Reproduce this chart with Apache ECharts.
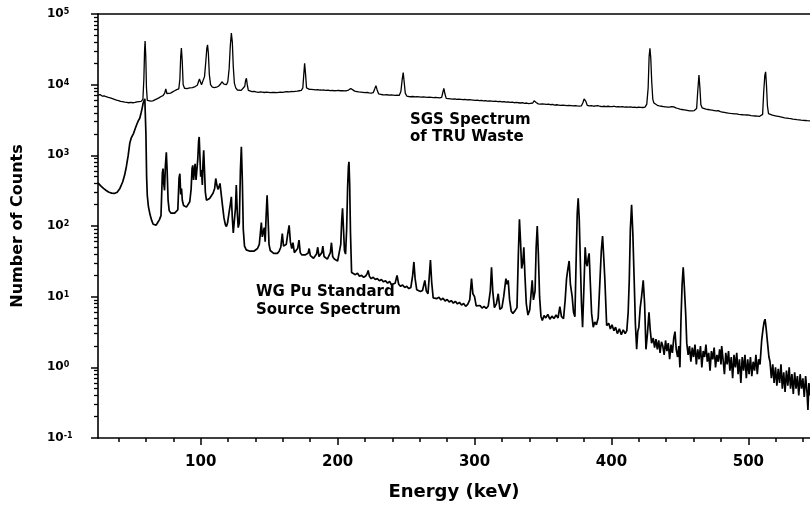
<!DOCTYPE html>
<html><head><meta charset="utf-8">
<script src="https://cdn.jsdelivr.net/npm/echarts@6/dist/echarts.min.js"></script>
<style>html,body{margin:0;padding:0;background:#fff}#c{width:810px;height:510px}</style>
</head><body><div id="c"></div>
<script>
// ---- tick labels ----
const xMajorTicks = [100, 200, 300, 400, 500];
const xMinorTicks = [40, 60, 80, 120, 140, 160, 180, 220, 240, 260, 280, 320, 340, 360, 380, 420, 440, 460, 480, 520, 540];
const yDecadeExponents = [-1, 0, 1, 2, 3, 4, 5];
const yMinorMantissas = [2, 3, 4, 5, 6, 7, 8, 9];

// ---- SGS spectrum of TRU waste [keV, counts] ----
const sgsSpectrum = [
[25,7100],[26.5,7250],[28,6900],[29.5,6950],[31,6750],[32.5,6600],[34,6500],[35.5,6350],[37,6200],[38.5,6050],
[40,5950],[41.5,5800],[43,5750],[44.5,5650],[46,5600],[47.5,5550],[49,5600],[50.5,5550],[52,5600],[53.5,5700],
[55,5750],[56.5,5800],[57.8,6200],[58.5,12000],[59.0,30000],[59.4,41400],[59.9,25000],[60.4,9000],[61,6000],[62,5750],
[63.5,5850],[65,5900],[66.5,6100],[68,6300],[69.5,6500],[71,6800],[72.5,7000],[73.7,7600],[74.5,8700],[75.3,7500],
[76.5,7400],[78,7600],[79.5,7900],[81,8200],[82.5,8500],[84,8700],[84.8,12000],[85.4,25000],[85.9,33000],[86.5,22000],
[87.2,10000],[88.2,8900],[90,8800],[92,9000],[94,9100],[96,9400],[97.5,9800],[98.4,11000],[99.1,12000],[99.8,11000],
[100.6,10000],[101.6,10500],[102.8,13000],[103.8,22000],[104.5,33000],[105.0,36600],[105.6,28000],[106.3,14000],[107.2,10000],[108.5,9200],
[110,9100],[111.5,9200],[113,9500],[114.5,10200],[115.5,11000],[116.2,11300],[117,10200],[117.8,9900],[118.8,10000],[119.8,11000],
[120.8,17000],[121.6,35000],[122.4,53700],[123.1,40000],[123.8,18000],[124.6,10500],[125.6,9000],[126.8,8400],[128.2,8200],[129.6,8300],
[131,8500],[132.2,9500],[132.8,11500],[133.4,12300],[134,10000],[134.8,8300],[136,8000],[137.5,7950],[139,8050],[140.5,7900],
[142,7800],[143.5,7900],[145,7850],[146.5,7750],[148,7850],[149.5,7800],[151,7700],[152.5,7800],[154,7750],[155.5,7700],
[157,7800],[158.5,7850],[160,7800],[161.5,7900],[163,7950],[164.5,7900],[166,8000],[167.5,7950],[169,8050],[170.5,8100],
[172,8200],[173.5,8300],[174.6,9000],[175.3,14000],[175.9,20000],[176.6,14000],[177.3,9000],[178.2,8500],[179.5,8600],[181,8550],
[182.5,8500],[184,8450],[185.5,8500],[187,8400],[188.5,8350],[190,8400],[191.5,8300],[193,8350],[194.5,8250],[196,8300],
[197.5,8200],[199,8250],[200.5,8300],[202,8200],[203.5,8250],[205,8150],[206.5,8200],[208,8400],[209.6,8850],[211,8300],
[212.5,8100],[214,8000],[215.5,7900],[217,7850],[218.5,7800],[220,7700],[221.5,7750],[223,7650],[224.5,7600],[226,7700],
[227.2,8800],[228,9700],[228.8,8500],[230,7400],[231.5,7300],[233,7200],[234.5,7150],[236,7200],[237.5,7100],[239,7150],
[240.5,7100],[242,7050],[243.5,7100],[245,7050],[246.2,8000],[247.2,12000],[247.9,14800],[248.6,11000],[249.4,7600],[250.5,6900],
[252,6800],[253.5,6750],[255,6800],[256.5,6700],[258,6750],[259.5,6700],[261,6650],[262.5,6700],[264,6650],[265.5,6600],
[267,6650],[268.5,6600],[270,6550],[271.5,6600],[273,6550],[274.5,6500],[276,6600],[277,8000],[277.6,8850],[278.3,7500],
[279.3,6400],[281,6350],[282.5,6300],[284,6250],[285.5,6300],[287,6200],[288.5,6250],[290,6200],[291.5,6150],[293,6200],
[294.5,6100],[296,6150],[297.5,6100],[299,6050],[300.5,6000],[302,6050],[303.5,5950],[305,6000],[306.5,5900],[308,5950],
[309.5,5850],[311,5900],[312.5,5850],[314,5800],[315.5,5850],[317,5750],[318.5,5800],[320,5700],[321.5,5750],[323,5650],
[324.5,5700],[326,5600],[327.5,5650],[329,5550],[330.5,5600],[332,5550],[333.5,5500],[335,5550],[336.5,5450],[338,5500],
[339.5,5400],[341,5450],[342.5,5500],[343.5,5900],[344.2,6200],[345,5600],[346.5,5350],[348,5300],[349.5,5350],[351,5300],
[352.5,5250],[354,5300],[355.5,5200],[357,5250],[358.5,5150],[360,5200],[361.5,5150],[363,5100],[364.5,5150],[366,5100],
[367.5,5050],[369,5100],[370.5,5050],[372,5000],[373.5,5050],[375,5000],[376.5,4980],[378,5000],[379.2,5600],[380,6300],
[380.6,6600],[381.3,5800],[382.3,5100],[383.8,5000],[385.5,5050],[387,4950],[388.5,5000],[390,5050],[391.5,4950],[393,4900],
[394.5,4950],[396,4900],[397.5,4950],[399,4880],[400.5,4900],[402,4950],[403.5,4850],[405,4900],[406.5,4850],[408,4900],
[409.5,4820],[411,4850],[412.5,4800],[414,4850],[415.5,4780],[417,4820],[418.5,4750],[420,4800],[421.5,4780],[423,4750],
[424.5,4800],[425.8,5300],[426.8,9000],[427.5,25000],[428.1,32700],[428.7,24000],[429.4,11000],[430.2,6200],[431,5500],[432,5300],
[433.5,5100],[435,5000],[436.5,4950],[438,4900],[439.5,4850],[441,4800],[442.5,4800],[444,4900],[444.7,5150],[445.5,4850],
[447,4700],[448.5,4600],[450,4500],[451.5,4450],[453,4400],[454.5,4350],[456,4300],[457.5,4250],[459,4250],[460.5,4300],
[462.2,4600],[463.0,8000],[463.9,13700],[464.6,9000],[465.3,5200],[466.2,4700],[467.5,4600],[469,4500],[470.5,4450],[472,4400],
[473.5,4350],[475,4300],[476.5,4250],[478,4280],[479.5,4150],[481,4100],[482.5,4050],[484,4000],[485.5,3950],[487,3920],
[488.5,3900],[490,3850],[491.5,3850],[493,3800],[494.5,3780],[496,3750],[497.5,3730],[499,3720],[500.5,3700],[502,3650],
[503.5,3620],[505,3600],[506.5,3580],[508,3550],[509.3,3520],[510.4,3800],[511.2,8000],[512.0,13500],[512.6,15200],[513.2,10000],
[513.9,5000],[514.7,3900],[516,3750],[517.5,3700],[519,3650],[520.5,3600],[522,3550],[523.5,3500],[525,3450],[526.5,3400],
[528,3370],[529.5,3330],[531,3300],[532.5,3260],[534,3230],[535.5,3200],[537,3180],[538.5,3150],[540,3130],[541.5,3110],
[543,3090],[545,3070]
];

// ---- WG Pu standard source spectrum [keV, counts] ----
const puLowSpectrum = [
[25,407],[27,370],[29,340],[31,318],[33,300],[35,292],[37,289],[39,300],[41,340],[43,420],
[44.5,530],[45.7,690],[47,980],[48.2,1480],[49.2,1750],[50.1,1850],[51,2050],[52.2,2400],[53.5,2800],[54.5,3100],
[55.5,3350],[56.5,4000],[57.3,4700],[57.9,5400],[58.6,5900],[59.2,6300],[59.6,6000],[60.0,2000],[60.5,500],[61,270],
[61.8,190],[63,145],[64.2,120],[65.3,106],[66.4,100],[67.5,103],[68.6,112],[69.8,122],[71,140],[72,560],
[72.5,650],[73,400],[73.6,320],[74.2,700],[74.9,1100],[75.5,600],[76.2,230],[77,165],[78.3,152],[79.6,150],
[81,152],[82.3,156],[83.3,170],[84.2,480],[84.8,550],[85.4,280],[86,340],[86.6,230],[87.5,195],[88.6,188],
[89.6,185],[90.8,195],[92,220],[93,330],[93.7,650],[94.2,720],[94.8,450],[95.4,600],[95.9,760],[96.6,450],
[97.3,480],[97.9,900],[98.5,1600],[98.9,1820],[99.5,900],[100,500],[100.6,620],[101.2,380],[101.7,800],[102.2,1180],
[102.8,600],[103.4,300],[104.2,232],[105.3,235],[106.5,245],[107.8,260],[109,290],[110.2,340],[111,470],[111.8,380],
[112.6,330],[113.4,360],[114.1,400],[115,280],[116,190],[117,130],[118,105],[118.8,98],[119.6,110],[120.6,150],
[121.6,200],[122.4,258],[123.1,130],[123.8,80],[124.6,82],[125.4,180],[126,380],[126.7,160],[127.4,95],[128.2,110],
[129,600],[129.7,1320],[130.4,450],[131.1,90],[132,52],[133.3,46],[134.7,45],[136,44],[137.4,45],[138.8,44],
[140.2,46],[141.5,48],[142.8,55],[143.6,80],[144.3,112],[145,70],[145.7,72],[146.4,95],[147.1,60],[147.8,140],
[148.5,272],[149.2,130],[149.9,55],[150.8,45],[152,43],[153.3,41],[154.6,42],[156,41],[157.3,44],[158.5,50],
[159.6,78],[160.5,52],[161.5,50],[162.5,55],[163.6,78],[164.6,102],[165.5,60],[166.5,48],[167.4,58],[168.4,42],
[169.6,41],[170.8,48],[171.8,63],[172.7,42],[173.8,39],[175,38],[176.2,39],[177.4,37],[178.4,41],[179.2,48],
[180.1,38],[181.2,36],[182.4,35],[183.6,36],[184.6,40],[185.5,50],[186.4,37],[187.6,36],[188.5,42],[189.2,52],
[190.1,37],[191.3,35],[192.5,34],[193.7,35],[194.7,42],[195.5,58],[196.4,37],[197.6,34],[198.8,33],[200,32],
[201.2,33],[202.3,55],[203.0,120],[203.6,178],[204.3,90],[205.0,45],[205.8,40],[206.6,90],[207.3,350],[207.9,700],
[208.3,810],[208.8,400],[209.4,80]
];
const puMidSpectrum = [
[210.2,22],[211.5,21],[213,20.5],[214.5,21.5],[216,19.5],[217.5,20],[219,18.8],[220.5,19.6],[221.5,21],[222.3,23.5],
[223.2,19.5],[224.5,18],[226,18.8],[227.5,17.5],[229,18],[230.5,16.8],[232,17.5],[233.5,16.2],[235,16.8],[236.5,15.5],
[238,16.5],[239.2,14.8],[240.5,15.2],[242,15.5],[243.4,20],[244.6,15],[246,14],[247.5,14.6],[249,13.5],[250.5,14],
[252,13],[253.5,13.5],[254.8,20],[255.7,31],[256.6,18],[257.8,12.5],[259,12],[260.5,11.8],[262,12.2],[263.7,17],
[264.8,12],[266,11],[267,20],[267.8,33],[268.7,16],[269.8,9.6],[271,10.2],[272.5,9.4],[274,9.8],[275.5,9],
[277,9.5],[278.5,8.7],[280,9.1],[281.5,8.4],[283,8.8],[284.5,8.1],[286,8.6],[287.5,7.9],[289,8.3],[290.5,7.6],
[292,8],[293.5,7.3],[295,7.8],[296.5,9],[297.8,18],[298.8,11],[300,10],[301.2,7.4],[302.5,7.0],[304,7.5],
[305.5,6.9],[307,7.3],[308.5,6.8],[310,7.4],[311.5,12],[312.4,26],[313.3,12],[314.5,7],[316,8],[317.3,11],
[318.5,6.6],[320,7],[321.3,10],[322.9,18],[323.8,15],[324.6,17],[325.6,9],[326.8,6.2],[328,5.8],[329.5,6.3],
[331,7],[332,40],[332.8,124],[333.6,60],[334.4,25],[335.2,30],[336,50],[336.8,20],[337.8,8],[339,5.5],
[340.3,6.5],[341.3,11],[342.1,17],[343,9],[344.2,12],[345,50],[345.8,100],[346.6,40],[347.5,10]
];
const puHighSpectrum = [
[348.5,5.3],[349.5,4.6],[350.8,5.4],[352,5],[353.5,5.6],[355,4.8],[356.5,5.3],[358,4.9],[359.5,5.5],[361,5.0],
[362.3,7.2],[363.5,5.2],[365,4.9],[366.2,9],[367.2,18],[368.2,25],[369.1,32],[370,15],[371.3,10],[372.3,6],
[373.3,5.2],[374.3,40],[375,150],[375.7,247],[376.5,120],[377.3,30],[378.1,8],[378.9,3.7],[379.8,12],[380.8,50],
[381.6,30],[382.3,27],[383,35],[383.7,41],[384.6,15],[385.5,5.8],[386.7,3.7],[387.8,4.4],[389,4],[390.3,5],
[391.6,17],[392.6,45],[393.5,72],[394.4,35],[395.2,17],[396.5,3.9],[398,4.2],[399.2,3.5],[400.4,4],[401.8,3.3],
[403,3.7],[404.3,3.0],[405.8,3.5],[407.2,2.9],[408.6,3.4],[410,3.0],[411.2,3.3],[412.2,6],[413,17],[413.8,90],
[414.7,200],[415.6,80],[416.6,17],[417.5,4],[418.4,1.8],[419.2,3.2],[420,3.7],[421,7],[422,10],[423.2,17],
[424.2,8],[425.2,1.8],[426.3,3],[427.4,6],[428.3,3.4],[429.3,2.2],[430.5,2.6],[431.5,1.9],[432.5,2.5],[433.5,1.8],
[434.5,2.4],[435.5,1.6],[436.5,2.3],[437.5,2.0],[438.5,1.5],[439.5,2.4],[440.5,1.7],[441.5,2.2],[442.5,1.3],[443.5,2.1],
[444.5,1.6],[445.5,2.6],[446.4,3.2],[447.3,1.8],[448.3,1.4],[449.2,2.0],[450,1.0],[450.8,5],[451.6,15],[452.4,26],
[453.2,14],[454.2,5.8],[455,2.2],[456,1.5],[457,2.0],[458,1.2],[459,1.9],[460,1.4],[461,2.1],[462,1.1],
[463,1.8],[464,1.3],[465,2.0],[466,1.0],[467,1.7],[468,1.4],[469,2.1],[470,1.2],[471,1.6],[472,0.9],
[473,1.7],[474,1.3],[475,1.9],[476,1.0],[477,1.5],[478,1.2],[479,1.8],[480,1.1],[480.5,2.0],[481.5,1.3],
[482.5,0.8],[483.5,1.6],[484.5,1.1],[485.5,1.7],[486.5,0.9],[487.5,1.4],[488.5,0.7],[489.5,1.5],[490.5,1.0],[491.5,1.6],
[492.5,0.8],[493.5,1.3],[494.5,0.6],[495.5,1.4],[496.5,0.9],[497.5,1.5],[498.5,0.7],[499.5,1.3],[500.5,0.8],[501.5,1.4],
[502.5,0.75],[503.5,1.2],[504.5,0.9],[505.5,1.5],[506.5,0.8],[507.5,1.3],[508.5,1.1],[509.7,2.4],[510.7,3.5],[511.5,4.4],
[512.2,4.8],[513,3.5],[514,2.2],[515,1.4],[515.8,1.2],[516.8,0.7],[517.8,1.1],[518.8,0.6],[519.8,1.0],[520.8,0.55],
[521.8,0.95],[522.8,0.6],[523.8,1.1],[524.8,0.5],[525.8,0.85],[526.8,0.45],[527.8,0.9],[528.8,0.55],[529.8,1.0],[530.8,0.5],
[531.8,0.8],[532.8,0.42],[533.8,0.85],[534.8,0.5],[535.8,0.75],[536.8,0.4],[537.8,0.8],[538.8,0.5],[539.8,0.7],[540.8,0.38],
[541.8,0.75],[542.8,0.45],[543.5,0.25],[544.2,0.6],[545,0.4]
];

const puSpectrum = puLowSpectrum.concat(puMidSpectrum, puHighSpectrum);
const yMinorTicks = [];
yDecadeExponents.slice(0, -1).forEach(function (e) {
  yMinorMantissas.forEach(function (m) { yMinorTicks.push(Math.log10(m) + e); });
});

const FONT = 'DejaVu Sans';
const chart = echarts.init(document.getElementById('c'), null, { renderer: 'canvas' });
chart.setOption({
  animation: false,
  backgroundColor: '#fff',
  grid: { left: 98, right: 0, top: 14, bottom: 72, containLabel: false },
  xAxis: [
    { type: 'value', min: 25, max: 545, position: 'bottom',
      axisLine: { show: true, onZero: false, lineStyle: { color: '#000', width: 1.6 } },
      axisTick: { show: true, inside: false, length: 7, customValues: xMajorTicks, lineStyle: { color: '#000', width: 1.5 } },
      axisLabel: { show: true, customValues: xMajorTicks, margin: 17, color: '#000', fontFamily: FONT, fontWeight: 'bold', fontSize: 15 },
      splitLine: { show: false },
      name: 'Energy (keV)', nameLocation: 'middle', nameGap: 45,
      nameTextStyle: { color: '#000', fontFamily: FONT, fontWeight: 'bold', fontSize: 18 } },
    { type: 'value', min: 25, max: 545, position: 'bottom',
      axisLine: { show: false, onZero: false },
      axisTick: { show: true, inside: false, length: 4, customValues: xMinorTicks, lineStyle: { color: '#000', width: 1.5 } },
      axisLabel: { show: false }, splitLine: { show: false } },
    { type: 'value', min: 25, max: 545, position: 'top',
      axisLine: { show: true, onZero: false, lineStyle: { color: '#000', width: 1.6 } },
      axisTick: { show: false }, axisLabel: { show: false }, splitLine: { show: false } }
  ],
  yAxis: [
    { type: 'value', min: -1, max: 5, position: 'left',
      axisLine: { show: false, onZero: false },
      axisTick: { show: true, inside: false, length: 4, customValues: yMinorTicks, lineStyle: { color: '#000', width: 1.3 } },
      axisLabel: { show: false }, splitLine: { show: false } },
    { type: 'value', min: -1, max: 5, position: 'left',
      axisLine: { show: true, onZero: false, lineStyle: { color: '#000', width: 1.6 } },
      axisTick: { show: true, inside: false, length: 7, customValues: yDecadeExponents, lineStyle: { color: '#000', width: 1.5 } },
      axisLabel: { show: true, customValues: yDecadeExponents, align: 'left', margin: 51,
        formatter: function (v) { return '{b|10}{s|' + Math.round(v) + '}'; },
        rich: {
          b: { color: '#000', fontFamily: FONT, fontWeight: 'bold', fontSize: 12 },
          s: { color: '#000', fontFamily: FONT, fontWeight: 'bold', fontSize: 8, verticalAlign: 'top' }
        } },
      splitLine: { show: false },
      name: 'Number of Counts', nameLocation: 'middle', nameGap: 72,
      nameTextStyle: { color: '#000', fontFamily: FONT, fontWeight: 'bold', fontSize: 16 } },
    { type: 'log', logBase: 10, min: 0.1, max: 100000, position: 'left',
      axisLine: { show: false, onZero: false }, axisTick: { show: false }, axisLabel: { show: false }, splitLine: { show: false } }
  ],
  graphic: [
    { type: 'text', left: 410, top: 112, z: 100,
      style: { text: 'SGS Spectrum\nof TRU Waste', fill: '#000', fontFamily: FONT, fontWeight: 'bold', fontSize: 15, lineHeight: 17 } },
    { type: 'text', left: 256, top: 283, z: 100,
      style: { text: 'WG Pu Standard\nSource Spectrum', fill: '#000', fontFamily: FONT, fontWeight: 'bold', fontSize: 15, lineHeight: 18 } }
  ],
  series: [
    { name: 'SGS Spectrum of TRU Waste', type: 'line', xAxisIndex: 0, yAxisIndex: 2,
      data: sgsSpectrum, showSymbol: false, symbol: 'none', sampling: null,
      lineStyle: { color: '#000', width: 1.3 } },
    { name: 'WG Pu Standard Source Spectrum', type: 'line', xAxisIndex: 0, yAxisIndex: 2,
      data: puSpectrum, showSymbol: false, symbol: 'none', sampling: null,
      lineStyle: { color: '#000', width: 1.7 } }
  ]
});
</script>
</body></html>
